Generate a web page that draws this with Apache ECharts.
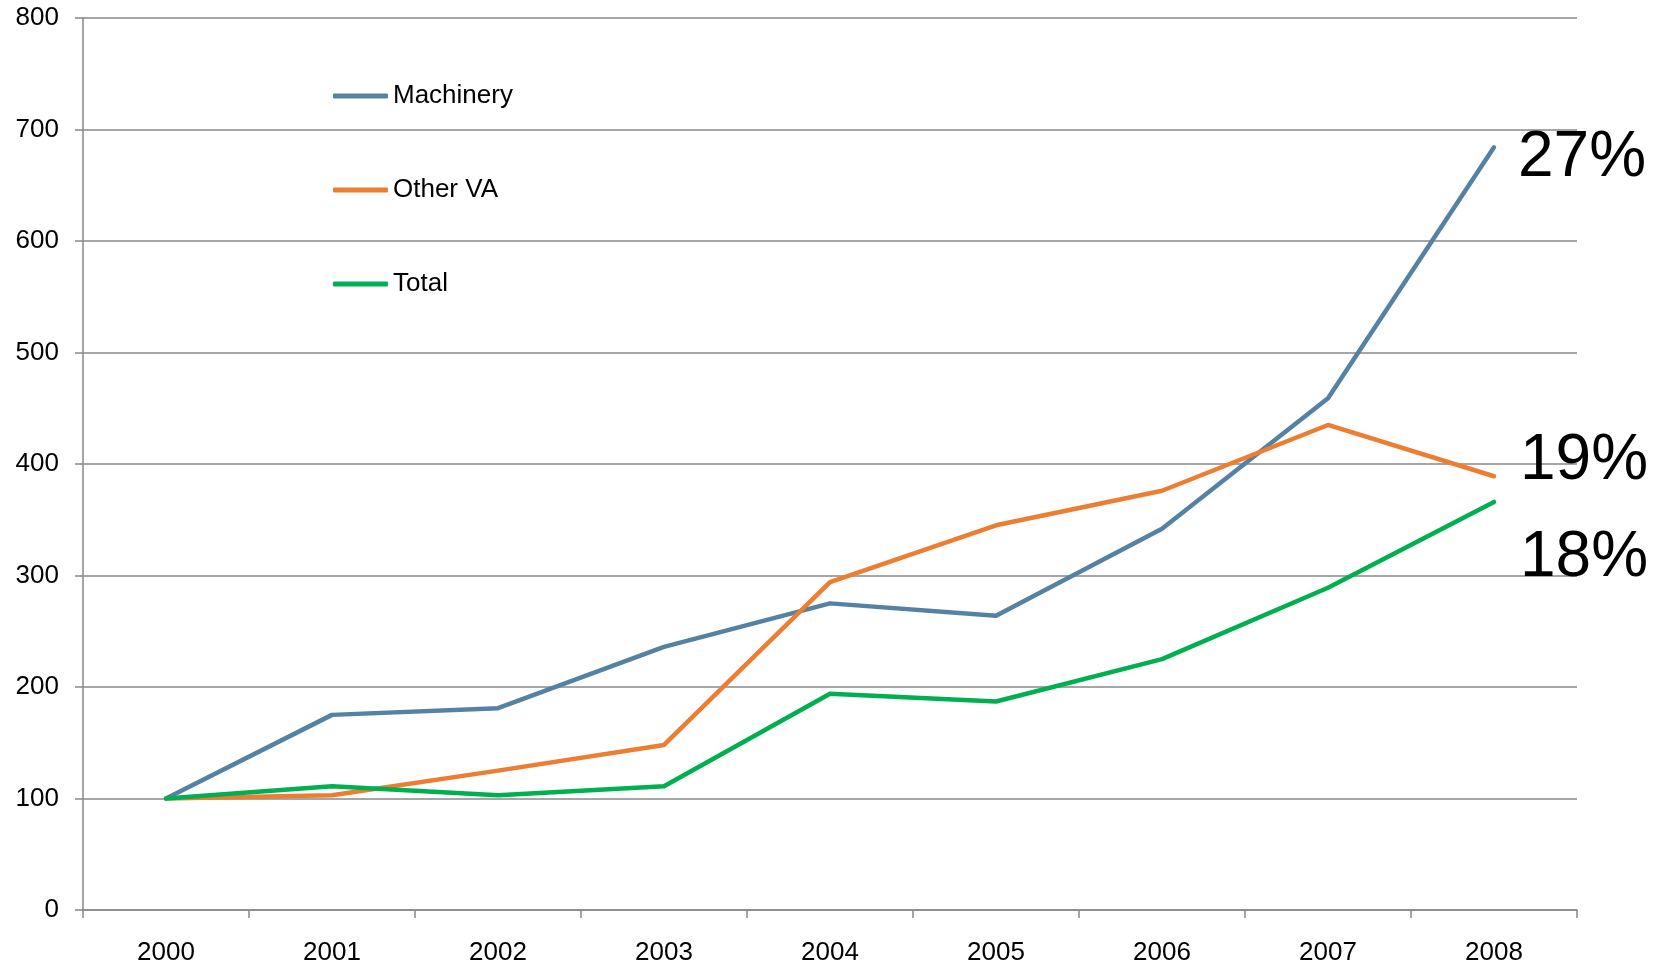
<!DOCTYPE html>
<html>
<head>
<meta charset="utf-8">
<script src="https://cdn.jsdelivr.net/npm/echarts@6/dist/echarts.min.js"></script>
<style>html,body{margin:0;padding:0;background:#fff;}#c{width:1667px;height:966px;}</style>
</head>
<body>
<div id="c"></div>
<script>
const years = ['2000','2001','2002','2003','2004','2005','2006','2007','2008'];
const machinery = [100, 175, 181, 236, 275, 264, 342, 459, 684];
const otherVA = [100, 103, 125, 148, 294, 345, 376, 435, 389];
const total = [100, 111, 103, 111, 194, 187, 225, 289, 366];
const endLabels = ['27%', '19%', '18%'];
const yTicks = [0, 100, 200, 300, 400, 500, 600, 700, 800];

const font = '"Liberation Sans", Arial, sans-serif';
const chart = echarts.init(document.getElementById('c'));

function mk(name, data, color, label, offset) {
  return {
    name: name, type: 'line', data: data, symbol: 'none',
    lineStyle: { color: color, width: 4.5, cap: 'round', join: 'round' },
    itemStyle: { color: color },
    emphasis: { disabled: true },
    endLabel: {
      show: true, formatter: label, distance: 5, offset: offset,
      color: '#000', fontFamily: font, fontSize: 64
    }
  };
}

chart.setOption({
  animation: false,
  textStyle: { fontFamily: font },
  grid: { left: 83, right: 90, top: 18, bottom: 54 },
  legend: {
    orient: 'vertical', left: 333, top: 83, padding: 0,
    itemWidth: 55, itemHeight: 5, itemGap: 68,
    icon: 'roundRect',
    textStyle: { fontSize: 26, color: '#000', fontFamily: font },
    data: ['Machinery', 'Other VA', 'Total']
  },
  xAxis: {
    type: 'category', data: years, boundaryGap: true,
    axisLine: { lineStyle: { color: '#888', width: 1.5 } },
    axisTick: { show: true, length: 8, lineStyle: { color: '#888', width: 1.5 } },
    axisLabel: { color: '#000', fontSize: 26, margin: 30, fontFamily: font },
    splitLine: { show: false }
  },
  yAxis: {
    type: 'value', min: yTicks[0], max: yTicks[yTicks.length - 1], interval: 100,
    axisLine: { show: true, lineStyle: { color: '#888', width: 1.5 } },
    axisTick: { show: true, length: 8, lineStyle: { color: '#888', width: 1.5 } },
    axisLabel: { color: '#000', fontSize: 26, margin: 24, fontFamily: font },
    splitLine: { show: true, lineStyle: { color: '#888', width: 1.5 } }
  },
  series: [
    mk('Machinery', machinery, '#5482A4', endLabels[0], [19, 11]),
    mk('Other VA', otherVA, '#ED7D31', endLabels[1], [21, -15]),
    mk('Total', total, '#00B050', endLabels[2], [21, 56])
  ]
});
</script>
</body>
</html>
